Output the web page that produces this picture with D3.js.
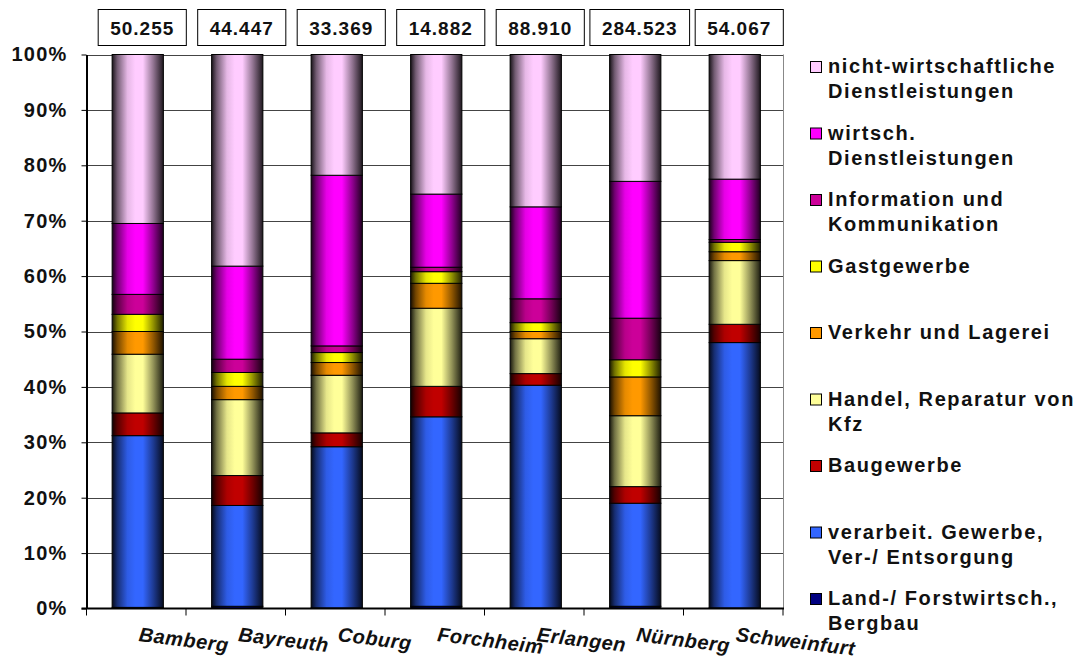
<!DOCTYPE html>
<html>
<head>
<meta charset="utf-8">
<script src="https://cdn.jsdelivr.net/npm/d3@7"></script>
<style>
  html, body { margin: 0; padding: 0; background: #fff; }
  svg { display: block; font-family: "Liberation Sans", Arial, sans-serif; font-weight: bold; }
</style>
</head>
<body>
<svg id="chart" width="1074" height="661"></svg>
<script>
// Districts (x categories) and total employees shown above each bar
const districts = ["Bamberg", "Bayreuth", "Coburg", "Forchheim", "Erlangen", "Nürnberg", "Schweinfurt"];
const employeesTotal = [50255, 44447, 33369, 14882, 88910, 284523, 54067];

// Sector shares in percent, listed from the bottom of the stack upwards
const landForst        = [0.2, 0.4, 0.1, 0.4, 0.1, 0.4, 0.1];
const verarbeitGewerbe = [31.0, 18.2, 29.1, 34.2, 40.2, 18.6, 47.9];
const baugewerbe       = [4.1, 5.4, 2.5, 5.5, 2.1, 3.0, 3.3];
const handelKfz        = [10.6, 13.7, 10.4, 14.1, 6.3, 12.8, 11.5];
const verkehrLagerei   = [4.1, 2.4, 2.3, 4.5, 1.3, 7.0, 1.6];
const gastgewerbe      = [3.1, 2.5, 1.8, 2.1, 1.6, 3.1, 1.7];
const infoKomm         = [3.6, 2.4, 1.2, 0.8, 4.3, 7.5, 0.5];
const wirtschDL        = [12.8, 16.8, 30.8, 13.2, 16.6, 24.7, 10.9];
const nichtWirtschDL   = [30.5, 38.2, 21.8, 25.2, 27.5, 22.9, 22.5];

const percentTicks = [0, 10, 20, 30, 40, 50, 60, 70, 80, 90, 100];

const series = [
  { key: "land",   lines: ["Land-/ Forstwirtsch.,", "Bergbau"],        color: "#000080", values: landForst },
  { key: "verarb", lines: ["verarbeit. Gewerbe,", "Ver-/ Entsorgung"], color: "#3366FF", values: verarbeitGewerbe },
  { key: "bau",    lines: ["Baugewerbe"],                              color: "#C00000", values: baugewerbe },
  { key: "handel", lines: ["Handel, Reparatur von", "Kfz"],            color: "#FFFF99", values: handelKfz },
  { key: "verk",   lines: ["Verkehr und Lagerei"],                     color: "#FF9900", values: verkehrLagerei },
  { key: "gast",   lines: ["Gastgewerbe"],                             color: "#FFFF00", values: gastgewerbe },
  { key: "info",   lines: ["Information und", "Kommunikation"],        color: "#CC0099", values: infoKomm },
  { key: "wdl",    lines: ["wirtsch.", "Dienstleistungen"],            color: "#FF00FF", values: wirtschDL },
  { key: "ndl",    lines: ["nicht-wirtschaftliche", "Dienstleistungen"], color: "#FFCCFF", values: nichtWirtschDL }
];

const rows = districts.map((d, i) => {
  const r = { district: d };
  series.forEach(s => { r[s.key] = s.values[i]; });
  return r;
});

const stacked = d3.stack()
  .keys(series.map(s => s.key))
  .offset(d3.stackOffsetExpand)(rows);

const svg = d3.select("#chart");

// plot area
const plotLeft = 86.5, plotRight = 783, plotTop = 54.5, plotBottom = 608.5;

const x = d3.scaleBand().domain(districts).range([plotLeft, plotRight]).padding(0);
const y = d3.scaleLinear().domain([0, 100]).range([plotBottom, plotTop]);
const barW = x.bandwidth() * 0.515;
const barX = d => x(d) + (x.bandwidth() - barW) / 2 + 1.5;

// cylinder-like shading per series
const defs = svg.append("defs");
const shade = [[0, 0.9], [0.1, 0.55], [0.3, 0.1], [0.45, 0], [0.6, 0], [0.8, 0.42], [1, 0.88]];
series.forEach(s => {
  const g = defs.append("linearGradient")
    .attr("id", "grad-" + s.key)
    .attr("x1", "0").attr("x2", "1").attr("y1", "0").attr("y2", "0");
  shade.forEach(([o, k]) => {
    g.append("stop").attr("offset", o).attr("stop-color", d3.interpolateRgb(s.color, "#000")(k));
  });
});

// gridlines
svg.append("g").selectAll("line")
  .data(percentTicks.filter(t => t > 0))
  .join("line")
  .attr("x1", plotLeft).attr("x2", plotRight)
  .attr("y1", d => Math.round(y(d)) + 0.5).attr("y2", d => Math.round(y(d)) + 0.5)
  .attr("stroke", "#444").attr("stroke-width", 1);

// right frame
svg.append("line")
  .attr("x1", plotRight + 0.5).attr("x2", plotRight + 0.5)
  .attr("y1", y(100)).attr("y2", plotBottom)
  .attr("stroke", "#888").attr("stroke-width", 1);

// stacked bars
const layer = svg.append("g").selectAll("g")
  .data(stacked)
  .join("g")
  .attr("fill", d => "url(#grad-" + d.key + ")");

layer.selectAll("rect")
  .data(d => d)
  .join("rect")
  .attr("x", d => barX(d.data.district))
  .attr("width", barW)
  .attr("y", d => y(d[1] * 100))
  .attr("height", d => Math.max(0, y(d[0] * 100) - y(d[1] * 100)))
  .attr("stroke", "#000")
  .attr("stroke-width", 1);

// y axis
const yAxis = svg.append("g")
  .attr("transform", `translate(${plotLeft},0)`)
  .call(d3.axisLeft(y).tickValues(percentTicks).tickFormat(d => d + "%").tickSize(5).tickSizeOuter(0).tickPadding(14));
yAxis.select(".domain").attr("stroke", "#000").attr("stroke-width", 2);
yAxis.selectAll(".tick line").attr("stroke", "#000");
yAxis.selectAll(".tick text")
  .attr("fill", "#111")
  .style("font-size", "20px")
  .style("font-weight", "bold")
  .style("letter-spacing", "1.2px")
  .style("font-family", "'Liberation Sans', Arial, sans-serif");

// x axis line and category separators
svg.append("line")
  .attr("x1", plotLeft - 5).attr("x2", plotRight + 1)
  .attr("y1", plotBottom).attr("y2", plotBottom)
  .attr("stroke", "#000").attr("stroke-width", 2);
const bounds = districts.map(d => x(d)).concat([plotRight]);
svg.append("g").selectAll("line")
  .data(bounds)
  .join("line")
  .attr("x1", d => d).attr("x2", d => d)
  .attr("y1", plotBottom).attr("y2", plotBottom + 7)
  .attr("stroke", "#000").attr("stroke-width", 1);

// rotated category labels
svg.append("g").selectAll("text")
  .data(districts)
  .join("text")
  .attr("transform", d => `translate(${x(d) + x.bandwidth() / 2 + 2},641) rotate(7)`)
  .style("font-size", "20px")
  .style("font-style", "italic")
  .style("letter-spacing", "0.5px")
  .attr("fill", "#111")
  .text(d => d);

// totals in boxes above the bars
const de = d3.formatLocale({ decimal: ",", thousands: ".", grouping: [3], currency: ["", " €"] });
const fmt = de.format(",");
const boxes = svg.append("g").selectAll("g")
  .data(districts.map((d, i) => ({ d, v: employeesTotal[i] })))
  .join("g")
  .attr("transform", d => `translate(${x(d.d) + x.bandwidth() / 2 + 6},0)`);
boxes.append("text")
  .attr("text-anchor", "middle")
  .attr("y", 35)
  .style("font-size", "19px")
  .style("letter-spacing", "1px")
  .attr("fill", "#111")
  .text(d => fmt(d.v));
boxes.each(function() {
  const g = d3.select(this);
  const w = g.select("text").node().getComputedTextLength() + 24;
  g.insert("rect", "text")
    .attr("x", -w / 2).attr("y", 9.5)
    .attr("width", w).attr("height", 36)
    .attr("fill", "#fff").attr("stroke", "#000").attr("stroke-width", 1);
});

// legend, top item first
const legend = svg.append("g").selectAll("g")
  .data(series.slice().reverse())
  .join("g")
  .attr("transform", (d, i) => `translate(810,${73 + i * 66.5})`);
legend.append("rect")
  .attr("x", 0.5).attr("y", -11.5)
  .attr("width", 11).attr("height", 11)
  .attr("fill", d => d.color)
  .attr("stroke", "#000").attr("stroke-width", 1);
legend.append("text")
  .attr("x", 18)
  .style("font-size", "20px")
  .style("letter-spacing", "1.6px")
  .attr("fill", "#111")
  .selectAll("tspan")
  .data(d => d.lines)
  .join("tspan")
  .attr("x", 18)
  .attr("dy", (d, i) => i === 0 ? 0 : 25)
  .text(d => d);
</script>
</body>
</html>
